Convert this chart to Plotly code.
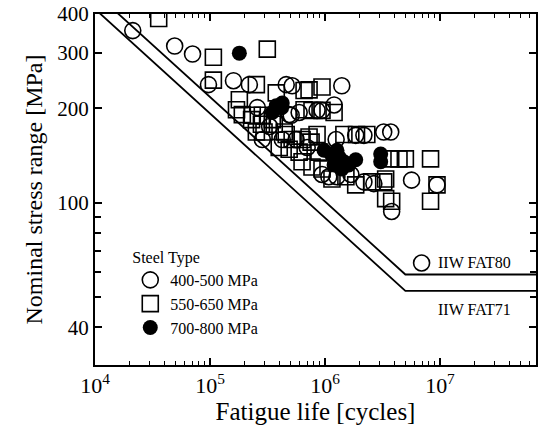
import plotly.graph_objects as go

# ---- data ----
c_N = [21300, 49300, 70500, 97000, 160000, 220000, 460000, 518000, 1.40e6, 258000,
       488000, 596000, 942000, 1.20e6, 853000, 285000, 425000, 561000, 1.25e6, 1.85e6,
       2.18e6, 3.24e6, 3.73e6, 942000, 1.08e6, 1.27e6, 1.68e6, 2.18e6, 2.66e6, 5.66e6,
       9.42e6, 3.80e6, 6.92e6, 508000, 330000, 700000]
c_S = [354, 316, 298, 238, 245, 238, 238, 236, 236, 201,
       191, 194, 197, 205, 197, 159, 159, 159, 159, 164,
       164, 168, 168, 123, 121, 121, 123, 116.5, 115, 118,
       114, 93.7, 64.2, 190, 175, 150]

s_N = [35800, 107000, 315000, 107000, 253000, 180000, 377000, 658000, 942000, 727000,
       170000, 191000, 233000, 285000, 348000, 230000, 280000, 362000, 295000, 442000,
       658000, 771000, 942000, 1.20e6, 460000, 518000, 632000, 727000, 853000, 488000,
       596000, 757000, 887000, 1.46e6, 1.88e6, 2.31e6, 632000, 771000, 942000, 1.15e6,
       1.52e6, 1.85e6, 2.55e6, 3.37e6, 3.73e6, 4.4e6, 5.0e6, 8.28e6, 9.42e6, 3.80e6,
       8.28e6, 3.24e6, 3.37e6, 253000, 400000]
s_S = [387, 291, 309, 246, 238, 213, 224, 228, 234, 229,
       198, 191, 190, 190, 184, 184, 178, 178, 168, 168,
       198, 197, 197, 194, 165, 159, 159, 162, 165, 148,
       145, 156, 145, 165, 165, 165, 135, 130, 128, 119,
       121, 114, 116.5, 119, 138, 138, 138, 138, 114, 101,
       101, 116.5, 103, 168, 150]

f_N = [180000, 377000, 425000, 348000, 420000, 1.13e6, 1.32e6, 1.46e6, 1.20e6, 1.61e6,
       1.85e6, 1.40e6, 1.27e6, 3.05e6, 3.05e6, 980000]
f_S = [300, 204, 208, 194, 201, 143, 140, 135, 132, 132,
       137, 128, 147, 143, 135, 147]

fat_N = [1.0e4, 5.0e6, 1.0e8]
fat80_S = [468, 59, 59]
fat71_S = [415, 52.3, 52.3]

series_names = ["400-500 MPa", "550-650 MPa", "700-800 MPa"]
x_tickvals = [1e4, 1e5, 1e6, 1e7]
x_ticktext = ["10<sup>4</sup>", "10<sup>5</sup>", "10<sup>6</sup>", "10<sup>7</sup>"]
x_minorvals = [2e4, 3e4, 4e4, 5e4, 6e4, 7e4, 8e4, 9e4,
               2e5, 3e5, 4e5, 5e5, 6e5, 7e5, 8e5, 9e5,
               2e6, 3e6, 4e6, 5e6, 6e6, 7e6, 8e6, 9e6,
               2e7, 3e7, 4e7, 5e7, 6e7]
y_tickvals = [40, 100, 200, 300, 400]
y_ticktext = ["40", "100", "200", "300", "400"]
y_minorvals = [50, 60, 70, 80, 90]

FONT = "Liberation Serif"

fig = go.Figure()
fig.add_trace(go.Scatter(x=fat_N, y=fat80_S, mode="lines", line=dict(color="black", width=1.8),
                         showlegend=False, hoverinfo="skip"))
fig.add_trace(go.Scatter(x=fat_N, y=fat71_S, mode="lines", line=dict(color="black", width=1.8),
                         showlegend=False, hoverinfo="skip"))
fig.add_trace(go.Scatter(x=c_N, y=c_S, mode="markers", name=series_names[0],
                         marker=dict(symbol="circle-open", size=16, color="black",
                                     line=dict(width=1.6, color="black"))))
fig.add_trace(go.Scatter(x=s_N, y=s_S, mode="markers", name=series_names[1],
                         marker=dict(symbol="square-open", size=16, color="black",
                                     line=dict(width=1.6, color="black"))))
fig.add_trace(go.Scatter(x=f_N, y=f_S, mode="markers", name=series_names[2],
                         marker=dict(symbol="circle", size=15, color="black",
                                     line=dict(width=0, color="black"))))

fig.add_annotation(x=7.3, y=1.808, xref="x", yref="y", text="IIW FAT80", showarrow=False,
                   xanchor="center", yanchor="middle", font=dict(family=FONT, size=16, color="black"))
fig.add_annotation(x=7.3, y=1.66, xref="x", yref="y", text="IIW FAT71", showarrow=False,
                   xanchor="center", yanchor="middle", font=dict(family=FONT, size=16, color="black"))

fig.update_layout(
    width=540, height=430,
    margin=dict(l=95, r=2, t=13, b=65),
    paper_bgcolor="white", plot_bgcolor="white",
    font=dict(family=FONT, color="black"),
    legend=dict(x=0.08, y=0.35, xanchor="left", yanchor="top",
                title=dict(text="Steel Type", font=dict(family=FONT, size=16, color="black")),
                font=dict(family=FONT, size=16, color="black"),
                bgcolor="rgba(0,0,0,0)", tracegroupgap=0, itemsizing="trace"),
)
fig.update_xaxes(type="log", range=[4, 7.835],
                 tickmode="array", tickvals=x_tickvals, ticktext=x_ticktext,
                 showgrid=False, zeroline=False,
                 showline=True, linecolor="black", linewidth=2, mirror="allticks",
                 ticks="inside", ticklen=7, tickwidth=1.5, tickcolor="black",
                 minor=dict(ticks="inside", ticklen=4, tickwidth=1.2, tickcolor="black",
                            tickmode="array", tickvals=x_minorvals, showgrid=False),
                 tickfont=dict(family=FONT, size=22, color="black"),
                 title=dict(text="Fatigue life [cycles]", font=dict(family=FONT, size=25, color="black"), standoff=0))
fig.update_yaxes(type="log", range=[1.482, 2.602],
                 tickmode="array", tickvals=y_tickvals, ticktext=y_ticktext,
                 showgrid=False, zeroline=False,
                 showline=True, linecolor="black", linewidth=2, mirror="allticks",
                 ticks="inside", ticklen=7, tickwidth=1.5, tickcolor="black",
                 minor=dict(ticks="inside", ticklen=6, tickwidth=1.5, tickcolor="black",
                            tickmode="array", tickvals=y_minorvals, showgrid=False),
                 tickfont=dict(family=FONT, size=21, color="black"),
                 title=dict(text="Nominal stress range [MPa]", font=dict(family=FONT, size=24, color="black"), standoff=8))

fig.write_html("out.html")
